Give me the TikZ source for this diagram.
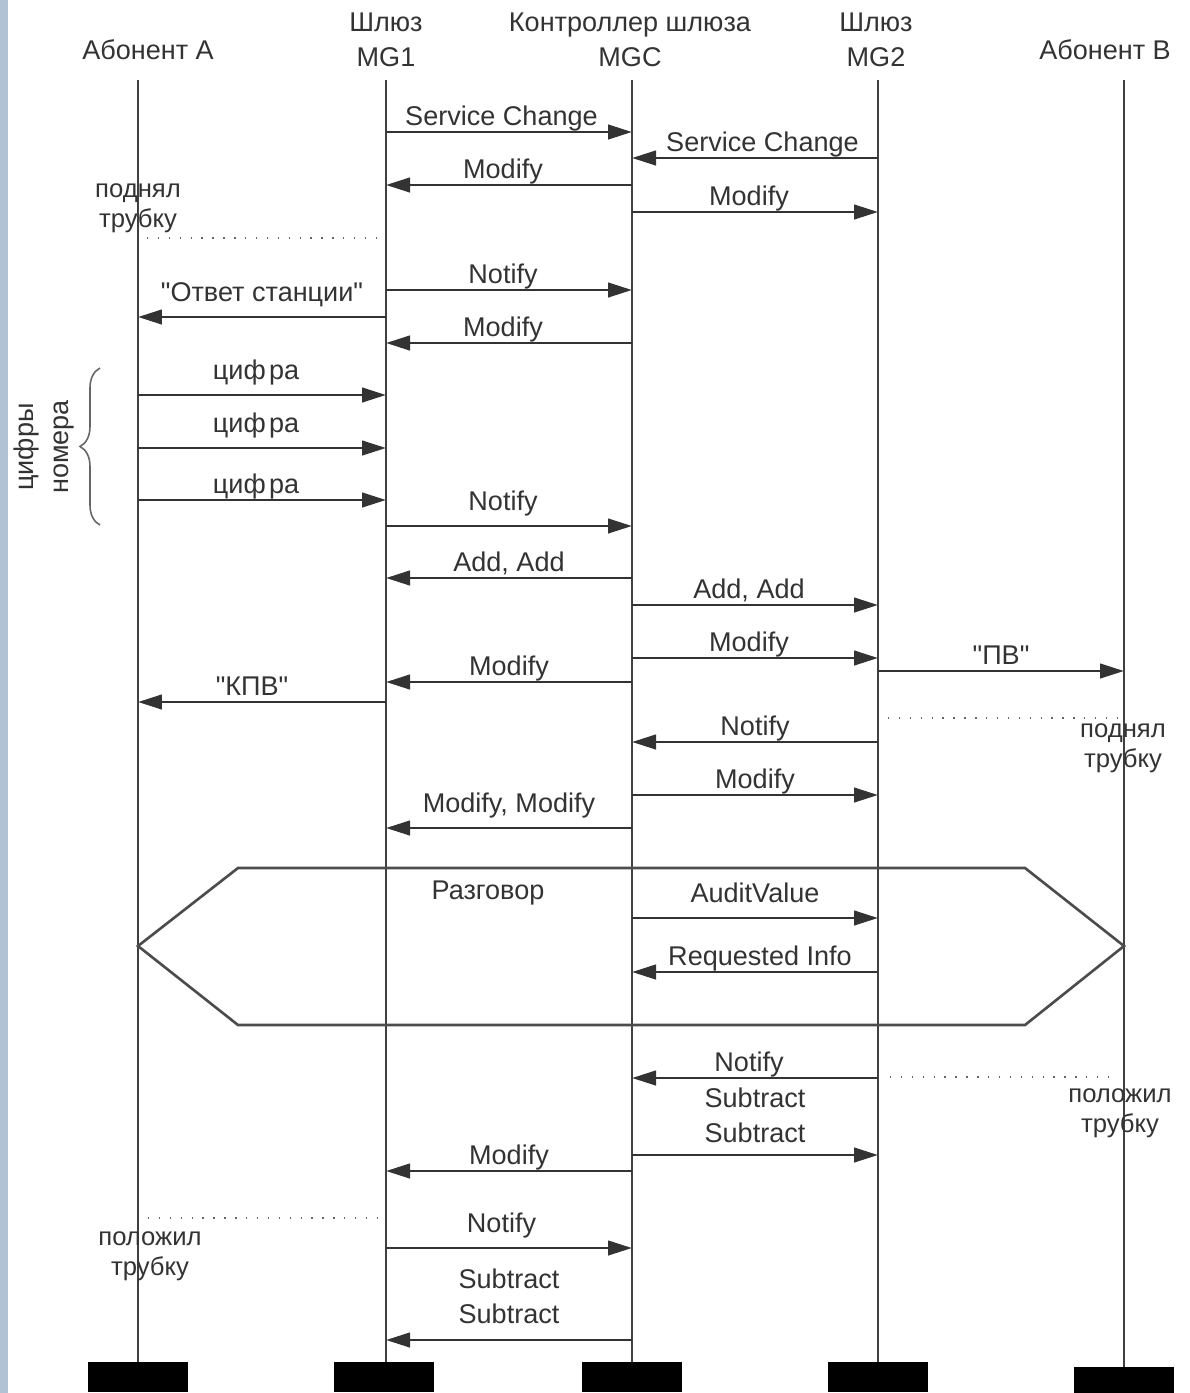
\documentclass[tikz,border=0pt]{standalone}
\usepackage{fontspec}
\setmainfont{Liberation Sans}[Ligatures=TeXOff]
\usetikzlibrary{arrows.meta,positioning,decorations.pathreplacing}
\definecolor{slide}{RGB}{176,194,212}
\newcommand\mainsize{\fontsize{15.4}{19.9}\selectfont}
\newcommand\notesize{\fontsize{14.6}{17}\selectfont}
\tikzset{life/.style={draw=black!75,line width=1.1pt},
 msg/.style={-{Triangle[length=4.8mm,width=2.9mm]},draw=black!80,line width=1.6pt},
 lbl/.style={midway,anchor=base,yshift=1.4mm,inner sep=0pt,text=black!80},
 hi/.style={yshift=1.8mm},
 two/.style={anchor=south,align=center},
 head/.style={align=center,text=black!80,inner sep=0pt},
 note/.style={align=center,text=black!80,font=\notesize,inner sep=0pt},
 waitline/.style={draw=black!60,line width=0.9pt,dash pattern=on 0.8pt off 5.4pt},
 endbox/.style={fill=black,minimum width=2cm,minimum height=0.6cm,inner sep=0pt},
 talk/.style={draw=black!70,line width=1.5pt,line join=miter}}

\begin{document}
\begin{tikzpicture}[x=0.02cm,y=-0.02cm,font=\mainsize]
\useasboundingbox (0,0) rectangle (1190,1393);
\fill[slide] (0,0) rectangle (8,1393);
% headers
\node[head] (ha) at (148,50) {Абонент А};
\node[head] (hg1) at (386,40) {Шлюз\\MG1};
\node[head] (hc) at (630,40) {Контроллер шлюза\\MGC};
\node[head] (hg2) at (876,40) {Шлюз\\MG2};
\node[head] (hb) at (1105,50) {Абонент В};
% lifelines
\coordinate (a) at (138,80);
\coordinate (g1) at (386,80);
\coordinate (c) at (632,80);
\coordinate (g2) at (878,80);
\coordinate (b) at (1124,80);
\node[endbox] (ea) at (138,1377) {};
\node[endbox] (eg1) at (384,1377) {};
\node[endbox] (ec) at (632,1377) {};
\node[endbox] (eg2) at (878,1377) {};
\node[endbox] (eb) at (1124,1382) {};
\draw[life] (a)--(a |- ea.north);
\draw[life] (g1)--(g1 |- eg1.north);
\draw[life] (c)--(c |- ec.north);
\draw[life] (g2)--(g2 |- eg2.north);
\draw[life] (b)--(b |- eb.north);
% conversation frame
\draw[talk] (a |- 0,946)--(238,868)--(1025,868)--(b |- 0,946)--(1025,1025)--(238,1025)--cycle;
\node[head] (talk) at (488,893) {Разговор};
% registration
\draw[msg] (g1 |- 0,132)--node[lbl,xshift=-1.5mm]{Service Change}(c |- 0,132);
\draw[msg] (g2 |- 0,158)--node[lbl,xshift=1.5mm]{Service Change}(c |- 0,158);
\draw[msg] (c |- 0,185)--node[lbl,xshift=-1.2mm]{Modify}(g1 |- 0,185);
\draw[msg] (c |- 0,212)--node[lbl,xshift=-1.2mm]{Modify}(g2 |- 0,212);
% off-hook A
\node[note] (offa) at (138,208) {поднял\\трубку};
\draw[waitline] (147,238)--(378,238);
\draw[msg] (g1 |- 0,290)--node[lbl,xshift=-1.2mm]{Notify}(c |- 0,290);
\draw[msg] (g1 |- 0,317)--node[lbl,hi]{"Ответ станции"}(a |- 0,317);
\draw[msg] (c |- 0,343)--node[lbl,xshift=-1.2mm]{Modify}(g1 |- 0,343);
% dialling
\draw[msg] (a |- 0,395)--node[lbl,hi,xshift=-1.2mm]{циф\hspace{0.12em}ра}(g1 |- 0,395);
\draw[msg] (a |- 0,448)--node[lbl,hi,xshift=-1.2mm]{циф\hspace{0.12em}ра}(g1 |- 0,448);
\draw[msg] (a |- 0,500)--node[lbl,xshift=-1.2mm]{циф\hspace{0.12em}ра}(g1 |- 0,500);
\draw[decorate,decoration={brace,amplitude=4mm},draw=black!60,line width=0.9pt] (100,525)--(100,368);
\node[head,rotate=90] (digits) at (44,447) {цифры\\номера};
\draw[msg] (g1 |- 0,526)--node[lbl,hi,xshift=-1.2mm]{Notify}(c |- 0,526);
\draw[msg] (c |- 0,578)--node[lbl]{Add, Add}(g1 |- 0,578);
\draw[msg] (c |- 0,605)--node[lbl,xshift=-1.2mm]{Add, Add}(g2 |- 0,605);
\draw[msg] (c |- 0,658)--node[lbl,xshift=-1.2mm]{Modify}(g2 |- 0,658);
\draw[msg] (c |- 0,682)--node[lbl]{Modify}(g1 |- 0,682);
\draw[msg] (g2 |- 0,671)--node[lbl]{"ПВ"}(b |- 0,671);
\draw[msg] (g1 |- 0,702)--node[lbl,xshift=-2mm]{"КПВ"}(a |- 0,702);
% answer B
\draw[waitline] (888,718)--(1117,718);
\node[note] (offb) at (1123,748) {поднял\\трубку};
\draw[msg] (g2 |- 0,742)--node[lbl]{Notify}(c |- 0,742);
\draw[msg] (c |- 0,795)--node[lbl]{Modify}(g2 |- 0,795);
\draw[msg] (c |- 0,828)--node[lbl,hi]{Modify, Modify}(g1 |- 0,828);
\draw[msg] (c |- 0,918)--node[lbl,hi]{AuditValue}(g2 |- 0,918);
\draw[msg] (g2 |- 0,972)--node[lbl,xshift=1mm]{Requested Info}(c |- 0,972);
% on-hook B
\draw[waitline] (890,1077)--(1118,1077);
\node[note] (onb) at (1120,1113) {положил\\трубку};
\draw[msg] (g2 |- 0,1078)--node[lbl,xshift=-1.2mm]{Notify}(c |- 0,1078);
\draw[msg] (c |- 0,1155)--node[lbl,two,yshift=0.8mm]{Subtract\\Subtract}(g2 |- 0,1155);
\draw[msg] (c |- 0,1171)--node[lbl]{Modify}(g1 |- 0,1171);
% on-hook A
\draw[waitline] (148,1218)--(378,1218);
\node[note] (ona) at (150,1256) {положил\\трубку};
\draw[msg] (g1 |- 0,1248)--node[lbl,hi,xshift=-1.5mm]{Notify}(c |- 0,1248);
\draw[msg] (c |- 0,1340)--node[lbl,two,yshift=1.6mm]{Subtract\\Subtract}(g1 |- 0,1340);
\end{tikzpicture}
\end{document}
